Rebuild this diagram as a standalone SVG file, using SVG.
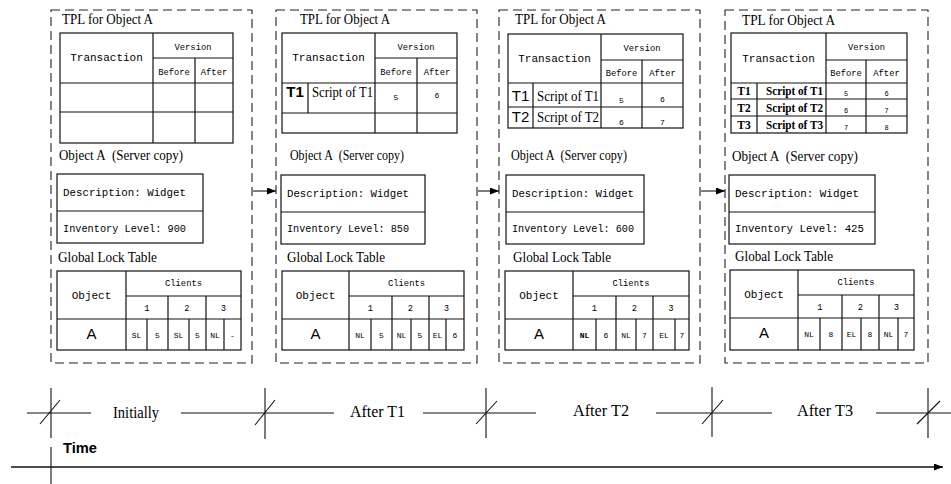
<svg xmlns="http://www.w3.org/2000/svg" width="951" height="484" viewBox="0 0 951 484">
<style>
.d{fill:none;stroke:#222;stroke-width:1.1;stroke-dasharray:9 5}
.t{fill:none;stroke:#111;stroke-width:1.2}
.bg{fill:#fff}
.ser{font-family:"Liberation Serif","Times New Roman",serif;fill:#000}
.mono{font-family:"Liberation Mono","Courier New",monospace;fill:#000}
.sans{font-family:"Liberation Sans",Arial,sans-serif;fill:#000}
.c{text-anchor:middle}
.tt{font-size:15px}
.tx{font-size:11px}
.sm{font-size:8.8px}
.xs{font-size:8px}
.big{font-size:15px}
.tl{font-size:17px}
.ln{fill:none;stroke:#111;stroke-width:1.1}
</style>
<defs>
<marker id="ah" markerWidth="9" markerHeight="7" refX="9" refY="3.5" orient="auto" markerUnits="userSpaceOnUse"><path d="M0,0L9,3.5L0,7z" fill="#000"/></marker>
</defs>
<rect width="951" height="484" fill="#fff"/>

<!-- Panel 1: Initially -->
<g id="panel-initially">
<rect class="d" x="51" y="10" width="201" height="353"/>
<text class="ser tt" x="62" y="24" textLength="91" lengthAdjust="spacingAndGlyphs">TPL for Object A</text>
<rect class="t" x="60" y="33" width="173" height="110"/>
<path class="t" d="M153 33V143M153 58H233M195 58V143M60 83H233M60 112H233"/>
<text class="mono c tx" x="106.5" y="61">Transaction</text>
<text class="mono c sm" x="193" y="50">Version</text>
<text class="mono c sm" x="174" y="75">Before</text>
<text class="mono c sm" x="214" y="75">After</text>
<text class="ser tt" x="59" y="160" textLength="124" lengthAdjust="spacingAndGlyphs">Object A&#160; (Server copy)</text>
<rect class="t" x="57" y="174" width="146" height="69"/>
<path class="t" d="M57 211H203"/>
<text class="mono tx" x="63" y="196" textLength="123" lengthAdjust="spacingAndGlyphs">Description: Widget</text>
<text class="mono tx" x="63" y="232" textLength="123" lengthAdjust="spacingAndGlyphs">Inventory Level: 900</text>
<text class="ser tt" x="58" y="262" textLength="99" lengthAdjust="spacingAndGlyphs">Global Lock Table</text>
<rect class="t" x="57" y="271" width="184" height="79"/>
<path class="t" d="M126 271V350M126 296H241M57 319H241M168 296V350M206 296V350M147 319V350M189 319V350M224 319V350"/>
<text class="mono c tx" x="91.5" y="299">Object</text>
<text class="mono c sm" x="183.5" y="286">Clients</text>
<text class="mono c sm" x="147" y="311">1</text>
<text class="mono c sm" x="187" y="311">2</text>
<text class="mono c sm" x="223.5" y="311">3</text>
<text class="sans c big" x="91.5" y="339">A</text>
<text class="mono c xs" x="136.5" y="338">SL</text>
<text class="mono c xs" x="157.5" y="338">5</text>
<text class="mono c xs" x="178.5" y="338">SL</text>
<text class="mono c xs" x="197.5" y="338">5</text>
<text class="mono c xs" x="215" y="338">NL</text>
<text class="mono c xs" x="232.5" y="338">-</text>
</g>

<!-- Panel 2: After T1 -->
<g id="panel-after-t1">
<rect class="d" x="276" y="10" width="201" height="353"/>
<text class="ser tt" x="300" y="24" textLength="90" lengthAdjust="spacingAndGlyphs">TPL for Object A</text>
<rect class="t" x="282" y="33" width="175" height="100"/>
<path class="t" d="M375 33V133M375 58H457M417 58V133M282 83H457M282 113H457M308 83V113"/>
<text class="mono c tx" x="328.5" y="61">Transaction</text>
<text class="mono c sm" x="416" y="50">Version</text>
<text class="mono c sm" x="396" y="75">Before</text>
<text class="mono c sm" x="437" y="75">After</text>
<text class="sans c big" x="295" y="97" font-weight="bold">T1</text>
<text class="ser tt" x="312" y="97" textLength="61" lengthAdjust="spacingAndGlyphs">Script of T1</text>
<text class="mono c xs" x="396" y="100">5</text>
<text class="mono c xs" x="437" y="98">6</text>
<text class="ser tt" x="290" y="160" textLength="114" lengthAdjust="spacingAndGlyphs">Object A&#160; (Server copy)</text>
<rect class="t" x="281" y="175" width="144" height="69"/>
<path class="t" d="M281 212H425"/>
<text class="mono tx" x="287" y="197" textLength="122" lengthAdjust="spacingAndGlyphs">Description: Widget</text>
<text class="mono tx" x="287" y="232" textLength="122" lengthAdjust="spacingAndGlyphs">Inventory Level: 850</text>
<text class="ser tt" x="287" y="262" textLength="98" lengthAdjust="spacingAndGlyphs">Global Lock Table</text>
<rect class="t" x="282" y="271" width="182" height="79"/>
<path class="t" d="M349 271V350M349 296H464M282 319H464M392 296V350M429 296V350M371 319V350M411 319V350M446 319V350"/>
<text class="mono c tx" x="315.5" y="299">Object</text>
<text class="mono c sm" x="406.5" y="286">Clients</text>
<text class="mono c sm" x="370.5" y="311">1</text>
<text class="mono c sm" x="410.5" y="311">2</text>
<text class="mono c sm" x="446.5" y="311">3</text>
<text class="sans c big" x="315.5" y="339">A</text>
<text class="mono c xs" x="360" y="338">NL</text>
<text class="mono c xs" x="381.5" y="338">5</text>
<text class="mono c xs" x="401.5" y="338">NL</text>
<text class="mono c xs" x="420" y="338">5</text>
<text class="mono c xs" x="437.5" y="338">EL</text>
<text class="mono c xs" x="455" y="338">6</text>
</g>

<!-- Panel 3: After T2 -->
<g id="panel-after-t2">
<rect class="d" x="499" y="10" width="201" height="353"/>
<text class="ser tt" x="515" y="24" textLength="91" lengthAdjust="spacingAndGlyphs">TPL for Object A</text>
<rect class="t" x="508" y="34" width="175" height="94"/>
<path class="t" d="M601 34V128M601 60H683M642 60V128M508 83H683M508 107H683M533 83V128"/>
<text class="mono c tx" x="554.5" y="62">Transaction</text>
<text class="mono c sm" x="642" y="51">Version</text>
<text class="mono c sm" x="621.5" y="76">Before</text>
<text class="mono c sm" x="662.5" y="76">After</text>
<text class="sans c big" x="520.5" y="101">T1</text>
<text class="ser tt" x="537" y="101" textLength="62" lengthAdjust="spacingAndGlyphs">Script of T1</text>
<text class="mono c xs" x="621.5" y="103">5</text>
<text class="mono c xs" x="662.5" y="102">6</text>
<text class="sans c big" x="520.5" y="122">T2</text>
<text class="ser tt" x="537" y="122" textLength="62" lengthAdjust="spacingAndGlyphs">Script of T2</text>
<text class="mono c xs" x="621.5" y="125">6</text>
<text class="mono c xs" x="662.5" y="125">7</text>
<text class="ser tt" x="511" y="160" textLength="116" lengthAdjust="spacingAndGlyphs">Object A&#160; (Server copy)</text>
<rect class="t" x="506" y="175" width="138" height="69"/>
<path class="t" d="M506 212H644"/>
<text class="mono tx" x="512" y="197" textLength="122" lengthAdjust="spacingAndGlyphs">Description: Widget</text>
<text class="mono tx" x="512" y="232" textLength="122" lengthAdjust="spacingAndGlyphs">Inventory Level: 600</text>
<text class="ser tt" x="513" y="262" textLength="98" lengthAdjust="spacingAndGlyphs">Global Lock Table</text>
<rect class="t" x="505" y="271" width="184" height="79"/>
<path class="t" d="M573 271V350M573 296H689M505 319H689M616 296V350M653 296V350M596 319V350M636 319V350M675 319V350"/>
<text class="mono c tx" x="539" y="299">Object</text>
<text class="mono c sm" x="631" y="286">Clients</text>
<text class="mono c sm" x="594.5" y="311">1</text>
<text class="mono c sm" x="634.5" y="311">2</text>
<text class="mono c sm" x="671" y="311">3</text>
<text class="sans c big" x="539" y="339">A</text>
<text class="mono c xs" x="584.5" y="338" font-weight="bold">NL</text>
<text class="mono c xs" x="606" y="338">6</text>
<text class="mono c xs" x="626" y="338">NL</text>
<text class="mono c xs" x="644.5" y="338">7</text>
<text class="mono c xs" x="664" y="338">EL</text>
<text class="mono c xs" x="682" y="338">7</text>
</g>

<!-- Panel 4: After T3 -->
<g id="panel-after-t3">
<rect class="d" x="725" y="10" width="203" height="353"/>
<text class="ser tt" x="742" y="25" textLength="93" lengthAdjust="spacingAndGlyphs">TPL for Object A</text>
<rect class="t" x="731" y="33" width="176" height="100"/>
<path class="t" d="M826 33V133M826 60H907M866 60V133M731 83H907M731 99H907M731 116H907M757 83V133"/>
<text class="mono c tx" x="778.5" y="62">Transaction</text>
<text class="mono c sm" x="866.5" y="50">Version</text>
<text class="mono c sm" x="846" y="76">Before</text>
<text class="mono c sm" x="886.5" y="76">After</text>
<text class="ser c" x="744" y="95" font-size="11.5" font-weight="bold">T1</text>
<text class="ser" x="766" y="95" font-size="11.5" font-weight="bold" textLength="57" lengthAdjust="spacingAndGlyphs">Script of T1</text>
<text class="mono c" x="846" y="96" font-size="7">5</text>
<text class="mono c" x="886.5" y="96" font-size="7">6</text>
<text class="ser c" x="744" y="112" font-size="11.5" font-weight="bold">T2</text>
<text class="ser" x="766" y="112" font-size="11.5" font-weight="bold" textLength="57" lengthAdjust="spacingAndGlyphs">Script of T2</text>
<text class="mono c" x="846" y="113" font-size="7">6</text>
<text class="mono c" x="886.5" y="113" font-size="7">7</text>
<text class="ser c" x="744" y="129" font-size="11.5" font-weight="bold">T3</text>
<text class="ser" x="766" y="129" font-size="11.5" font-weight="bold" textLength="57" lengthAdjust="spacingAndGlyphs">Script of T3</text>
<text class="mono c" x="846" y="130" font-size="7">7</text>
<text class="mono c" x="886.5" y="130" font-size="7">8</text>
<text class="ser tt" x="732" y="161" textLength="126" lengthAdjust="spacingAndGlyphs">Object A&#160; (Server copy)</text>
<rect class="t" x="729" y="175" width="146" height="69"/>
<path class="t" d="M729 212H875"/>
<text class="mono tx" x="735" y="197" textLength="124" lengthAdjust="spacingAndGlyphs">Description: Widget</text>
<text class="mono tx" x="735" y="232" textLength="129" lengthAdjust="spacingAndGlyphs">Inventory Level: 425</text>
<text class="ser tt" x="735" y="261" textLength="98" lengthAdjust="spacingAndGlyphs">Global Lock Table</text>
<rect class="t" x="730" y="270" width="184" height="80"/>
<path class="t" d="M798 270V350M798 295H914M730 318H914M842 295V350M879 295V350M820 318V350M861 318V350M898 318V350"/>
<text class="mono c tx" x="764" y="298">Object</text>
<text class="mono c sm" x="856" y="285">Clients</text>
<text class="mono c sm" x="820" y="310">1</text>
<text class="mono c sm" x="860.5" y="310">2</text>
<text class="mono c sm" x="896.5" y="310">3</text>
<text class="sans c big" x="764" y="338">A</text>
<text class="mono c xs" x="809" y="337">NL</text>
<text class="mono c xs" x="831" y="337">8</text>
<text class="mono c xs" x="851.5" y="337">EL</text>
<text class="mono c xs" x="870" y="337">8</text>
<text class="mono c xs" x="888.5" y="337">NL</text>
<text class="mono c xs" x="906" y="337">7</text>
</g>

<!-- Connectors between panels -->
<g id="connectors">
<path class="ln" d="M253 191H276" marker-end="url(#ah)"/>
<path class="ln" d="M478 191H499" marker-end="url(#ah)"/>
<path class="ln" d="M701 191H725" marker-end="url(#ah)"/>
</g>

<!-- Timeline -->
<g id="timeline">
<path class="ln" d="M27 413H91M181 413H334M423 413H536M656 413H772M876 413H951"/>
<path class="ln" d="M51 388V438M40 424L60 400M265 388V439M255 425L275 400M486 388V438M476 424L497 401M712 387V437M702 424L723 400M928 388V438M917 424L940 401"/>
<text class="ser tl" x="113" y="418" textLength="46" lengthAdjust="spacingAndGlyphs">Initially</text>
<text class="ser tl" x="350" y="417" textLength="55" lengthAdjust="spacingAndGlyphs">After T1</text>
<text class="ser tl" x="573" y="416" textLength="56" lengthAdjust="spacingAndGlyphs">After T2</text>
<text class="ser tl" x="797" y="416" textLength="56" lengthAdjust="spacingAndGlyphs">After T3</text>
</g>

<g id="time-axis">
<path d="M11 467H943" fill="none" stroke="#111" stroke-width="1.6" marker-end="url(#ah)"/>
<path class="ln" d="M51 447V484"/>
<text class="sans" x="63" y="453" font-size="14.5" font-weight="bold" textLength="34" lengthAdjust="spacingAndGlyphs">Time</text>
</g>
</svg>
